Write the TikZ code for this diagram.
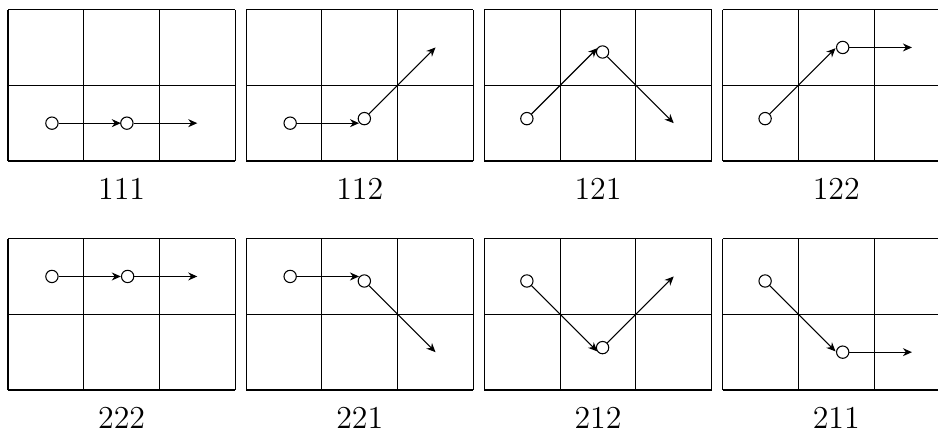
\documentclass[tikz,border=0pt]{standalone}
\usetikzlibrary{arrows.meta}
\tikzset{
  cellgrid/.style={line width=0.4pt},
  dot/.style={circle,draw,fill=white,inner sep=0pt,minimum size=1.63mm},
  mv/.style={-{Stealth[length=3.4pt,width=3pt]}},
  tag/.style={font=\large,inner sep=1pt},
}
\begin{document}
\begin{tikzpicture}
\useasboundingbox (-0.106,-0.502) rectangle (12.285,5.152);

% column/row/label, start dot, end height of first step, middle dot, end height
\foreach \col/\row/\lbl/\ax/\ay/\my/\bx/\by/\cy in {
  0/1/111/0.58/0.5/0.5/1.57/0.5/0.5,
  1/1/112/0.58/0.5/0.5/1.56/0.56/1.5,
  2/1/121/0.56/0.56/1.49/1.56/1.44/0.5,
  3/1/122/0.56/0.56/1.49/1.585/1.5/1.5,
  0/0/222/0.58/1.5/1.5/1.58/1.5/1.5,
  1/0/221/0.58/1.5/1.5/1.56/1.44/0.5,
  2/0/212/0.56/1.44/0.51/1.56/0.56/1.5,
  3/0/211/0.56/1.44/0.51/1.585/0.5/0.5}
{
  \begin{scope}[shift={(\col*3.147,\row*3.025)}]
    \draw[cellgrid] (0,0) grid (3,2);
    \node[dot] (a\lbl) at (\ax,\ay) {};
    \node[dot] (b\lbl) at (\bx,\by) {};
    \coordinate (m\lbl) at (1.49,\my);
    \coordinate (c\lbl) at (2.5,\cy);
    \draw[mv] (a\lbl) -- (m\lbl);
    \draw[mv] (b\lbl) -- (c\lbl);
    \node[tag] (t\lbl) at (1.5,-0.37) {\lbl};
  \end{scope}
}

\end{tikzpicture}
\end{document}
